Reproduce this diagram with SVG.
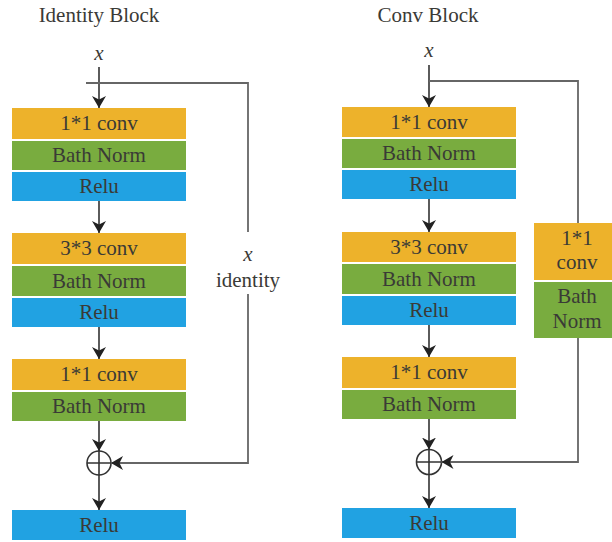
<svg xmlns="http://www.w3.org/2000/svg" width="612" height="542" viewBox="0 0 612 542">
<style>
.t{font-family:'Liberation Serif','Times New Roman',Times,'DejaVu Serif',serif;font-size:21px;fill:#3a3a36;text-anchor:middle}
.i{font-style:italic}
.or{fill:#EDB22B}.gr{fill:#79AC3F}.bl{fill:#21A2E2}
.ln{fill:none;stroke:#333;stroke-width:1.6}
.sk{fill:none;stroke:#666;stroke-width:1.8}
</style>
<defs>
<marker id="ah" viewBox="0 0 12 14" refX="12" refY="7" markerWidth="12" markerHeight="14" markerUnits="userSpaceOnUse" orient="auto">
<path d="M0,0 L12,7 L0,14 L3.5,7 z" fill="#222"/>
</marker>
</defs>
<rect width="612" height="542" fill="#fff"/>
<text class="t" x="99" y="22">Identity Block</text>
<text class="t" x="428" y="22">Conv Block</text>
<text class="t i" x="99" y="60">x</text>
<text class="t i" x="429" y="57">x</text>

<g id="left-stage1">
<rect class="or" x="12" y="108" width="174" height="31"/><text class="t" x="99" y="130">1*1 conv</text>
<rect class="gr" x="12" y="141" width="174" height="29"/><text class="t" x="99" y="162">Bath Norm</text>
<rect class="bl" x="12" y="172" width="174" height="29"/><text class="t" x="99" y="193">Relu</text>
</g>
<g id="left-stage2">
<rect class="or" x="12" y="233" width="174" height="31"/><text class="t" x="99" y="255">3*3 conv</text>
<rect class="gr" x="12" y="266" width="174" height="30"/><text class="t" x="99" y="288">Bath Norm</text>
<rect class="bl" x="12" y="298" width="174" height="29"/><text class="t" x="99" y="319">Relu</text>
</g>
<g id="left-stage3">
<rect class="or" x="12" y="359" width="174" height="31"/><text class="t" x="99" y="381">1*1 conv</text>
<rect class="gr" x="12" y="392" width="174" height="29"/><text class="t" x="99" y="413">Bath Norm</text>
</g>
<g id="left-add">
<circle cx="99" cy="463" r="12" fill="#fff" stroke="#333" stroke-width="1.6"/>
<path d="M87,463 H111 M99,451 V475" stroke="#333" stroke-width="1.6"/>
</g>
<g id="left-relu">
<rect class="bl" x="12" y="510" width="174" height="30"/><text class="t" x="99" y="532">Relu</text>
</g>
<g id="left-identity-label">
<text class="t i" x="248" y="261">x</text>
<text class="t" x="248" y="287">identity</text>
</g>

<g id="right-stage1">
<rect class="or" x="342" y="107" width="174" height="30"/><text class="t" x="429" y="129">1*1 conv</text>
<rect class="gr" x="342" y="139" width="174" height="29"/><text class="t" x="429" y="160">Bath Norm</text>
<rect class="bl" x="342" y="170" width="174" height="29"/><text class="t" x="429" y="191">Relu</text>
</g>
<g id="right-stage2">
<rect class="or" x="342" y="232" width="174" height="30"/><text class="t" x="429" y="254">3*3 conv</text>
<rect class="gr" x="342" y="264" width="174" height="30"/><text class="t" x="429" y="286">Bath Norm</text>
<rect class="bl" x="342" y="296" width="174" height="29"/><text class="t" x="429" y="317">Relu</text>
</g>
<g id="right-stage3">
<rect class="or" x="342" y="357" width="174" height="31"/><text class="t" x="429" y="379">1*1 conv</text>
<rect class="gr" x="342" y="390" width="174" height="29"/><text class="t" x="429" y="411">Bath Norm</text>
</g>
<g id="right-shortcut">
<rect class="or" x="534" y="223" width="80" height="57"/>
<text class="t" x="577" y="245">1*1</text><text class="t" x="577" y="269">conv</text>
<rect class="gr" x="534" y="282" width="80" height="56"/>
<text class="t" x="577" y="303">Bath</text><text class="t" x="577" y="328">Norm</text>
</g>
<g id="right-add">
<circle cx="429" cy="462" r="12.5" fill="#fff" stroke="#333" stroke-width="1.6"/>
<path d="M416.5,462 H441.5 M429,449.5 V474.5" stroke="#333" stroke-width="1.6"/>
</g>
<g id="right-relu">
<rect class="bl" x="342" y="508" width="174" height="30"/><text class="t" x="429" y="530">Relu</text>
</g>

<g id="connectors">
<path class="ln" d="M99,67 V108" marker-end="url(#ah)"/>
<path class="ln" d="M99,201 V233" marker-end="url(#ah)"/>
<path class="ln" d="M99,327 V359" marker-end="url(#ah)"/>
<path class="ln" d="M99,421 V451" marker-end="url(#ah)"/>
<path class="ln" d="M99,475 V510" marker-end="url(#ah)"/>
<path class="sk" d="M86,83 H248 V232"/>
<path class="sk" d="M248,294 V463 H111" marker-end="url(#ah)"/>

<path class="ln" d="M429,65 V107" marker-end="url(#ah)"/>
<path class="ln" d="M429,199 V232" marker-end="url(#ah)"/>
<path class="ln" d="M429,325 V357" marker-end="url(#ah)"/>
<path class="ln" d="M429,419 V449.5" marker-end="url(#ah)"/>
<path class="ln" d="M429,474.5 V508" marker-end="url(#ah)"/>
<path class="sk" d="M429,81 H578 V223"/>
<path class="sk" d="M578,338 V462 H441.5" marker-end="url(#ah)"/>
</g>
</svg>
